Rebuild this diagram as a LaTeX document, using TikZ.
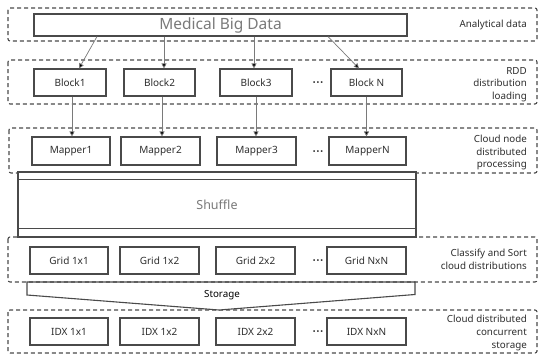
\documentclass[tikz,border=0pt]{standalone}
\usepackage{fontspec}
\setmainfont{Noto Sans}
\usetikzlibrary{arrows.meta}
\definecolor{edge}{HTML}{4A4A4A}
\definecolor{ink}{HTML}{2E2E2E}
\definecolor{soft}{HTML}{7A7A7A}
\tikzset{
  zone/.style={draw=edge, line width=1.1pt, dash pattern=on 4pt off 3pt, rounded corners=2pt},
  cell/.style={draw=edge, line width=1.1pt, fill=white, minimum height=27pt, inner sep=0pt,
               font=\fontsize{10}{12}\selectfont, text=ink},
  lab/.style={anchor=east, align=right, inner sep=0pt, text=ink,
              font=\fontsize{9.8}{12.6}\selectfont},
  dotsym/.style={text=ink, font=\fontsize{14}{14}\selectfont\bfseries, inner sep=0pt},
  arr/.style={draw=soft, line width=0.7pt, -{Triangle[length=5pt,width=5pt,fill=black]}}
}
\begin{document}
\begin{tikzpicture}[x=1pt,y=-1pt]
\useasboundingbox (0,0) rectangle (538,356);
\fill[white] (0,0) rectangle (538,356);

% dashed stage frames
\draw[zone] (8,8) rectangle (537,41);
\draw[zone] (8,60) rectangle (537,104);
\draw[zone] (9,128) rectangle (537,173);
\draw[zone] (8,310) rectangle (537,353);

% input data
\node[cell, minimum width=373pt, minimum height=22pt, text=soft,
      font=\fontsize{15.5}{18}\selectfont] (mbd) at (220.5,25) {Medical Big Data};

% RDD blocks
\node[cell, minimum width=72pt] (b1) at (70,82.5) {Block1};
\node[cell, minimum width=71pt] (b2) at (159.5,82.5) {Block2};
\node[cell, minimum width=72pt] (b3) at (256,82.5) {Block3};
\node[cell, minimum width=71pt] (bn) at (366.5,82.5) {Block N};
\node[dotsym] (d1) at (318,85) {···};

% mappers
\node[cell, minimum width=78pt, minimum height=28pt] (m1) at (71,151) {Mapper1};
\node[cell, minimum width=79pt, minimum height=28pt] (m2) at (160.5,151) {Mapper2};
\node[cell, minimum width=79pt, minimum height=28pt] (m3) at (256.5,151) {Mapper3};
\node[cell, minimum width=77pt, minimum height=28pt] (mn) at (367.5,151) {MapperN};
\node[dotsym] (d2) at (318,154) {···};

% arrows from the data set to the blocks
\draw[arr] ([xshift=-123.5pt]mbd.south) -- ([xshift=9pt]b1.north);
\draw[arr] ([xshift=-56.5pt]mbd.south) -- ([xshift=4.5pt]b2.north);
\draw[arr] ([xshift=33.5pt]mbd.south) -- ([xshift=-2pt]b3.north);
\draw[arr] ([xshift=107.5pt]mbd.south) -- ([xshift=-7.5pt]bn.north);

% arrows from the blocks to the mappers
\draw[arr] ([xshift=2pt]b1.south) -- ([xshift=2pt]b1.south |- m1.north);
\draw[arr] ([xshift=2.5pt]b2.south) -- ([xshift=2.5pt]b2.south |- m2.north);
\draw[arr] (b3.south) -- (b3.south |- m3.north);
\draw[arr] (bn.south) -- (bn.south |- mn.north);

% shuffle stage
\node[draw=edge, line width=1.1pt, fill=white, minimum width=398pt, minimum height=65pt,
      inner sep=0pt, text=soft, font=\fontsize{12.5}{15}\selectfont] (sh) at (217,204.5) {Shuffle};
\draw[edge, line width=1.1pt] ([yshift=-8pt]sh.north west) -- ([yshift=-8pt]sh.north east);
\draw[edge, line width=1.1pt] ([yshift=9pt]sh.south west) -- ([yshift=9pt]sh.south east);

% storage funnel
\draw[edge, line width=1.1pt, fill=white] (27,282) -- (27,295) -- (219,310) -- (415,294.5) -- (415,282) -- cycle;
\node[inner sep=0pt, text=black, font=\fontsize{9.8}{11}\selectfont\bfseries] (st) at (222,295) {Storage};

% classification frame
\draw[zone] (8,237) rectangle (537,282);

% grid cells
\node[cell, minimum width=78pt] (g1) at (69,260.5) {Grid 1x1};
\node[cell, minimum width=79pt] (g2) at (159.5,260.5) {Grid 1x2};
\node[cell, minimum width=79pt] (g3) at (255.5,260.5) {Grid 2x2};
\node[cell, minimum width=79pt] (gn) at (366.5,260.5) {Grid NxN};
\node[dotsym] (d3) at (318,263) {···};

% index cells
\node[cell, minimum width=78pt] (i1) at (69,331.5) {IDX 1x1};
\node[cell, minimum width=79pt] (i2) at (159.5,331.5) {IDX 1x2};
\node[cell, minimum width=79pt] (i3) at (255.5,331.5) {IDX 2x2};
\node[cell, minimum width=79pt] (in) at (366.5,331.5) {IDX NxN};
\node[dotsym] (d4) at (318,334) {···};

% stage captions
\node[lab] (l1) at (527,25) {Analytical data};
\node[lab] (l2) at (527,84.5) {RDD\\distribution\\loading};
\node[lab] (l3) at (527,152.5) {Cloud node\\distributed\\processing};
\node[lab] (l4) at (527,259) {Classify and Sort\\cloud distributions};
\node[lab] (l5) at (527,333) {Cloud distributed\\concurrent\\storage};
\end{tikzpicture}
\end{document}
